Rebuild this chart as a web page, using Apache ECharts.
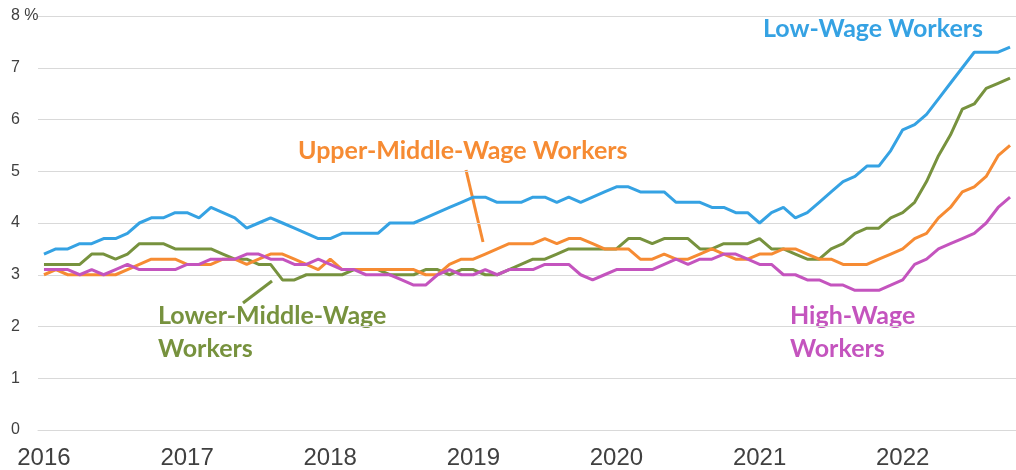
<!DOCTYPE html>
<html>
<head>
<meta charset="utf-8">
<script src="https://cdn.jsdelivr.net/npm/echarts@6/dist/echarts.min.js"></script>
<style>
  html, body { margin: 0; padding: 0; background: #fff; }
  #chart { width: 1016px; height: 470px; }
</style>
</head>
<body>
<div id="chart"></div>
<script>
// monthly, Jan 2016 - Oct 2022
const startYear = 2016
const monthCount = 82
const months = []
for (let i = 0; i < monthCount; i++) {
  const y = startYear + Math.floor(i / 12)
  const m = (i % 12) + 1
  months.push(y + '-' + (m < 10 ? '0' + m : m))
}

const lowWage = [
  3.4, 3.5, 3.5, 3.6, 3.6, 3.7, 3.7, 3.8, 4.0, 4.1, 4.1, 4.2,
  4.2, 4.1, 4.3, 4.2, 4.1, 3.9, 4.0, 4.1, 4.0, 3.9, 3.8, 3.7,
  3.7, 3.8, 3.8, 3.8, 3.8, 4.0, 4.0, 4.0, 4.1, 4.2, 4.3, 4.4,
  4.5, 4.5, 4.4, 4.4, 4.4, 4.5, 4.5, 4.4, 4.5, 4.4, 4.5, 4.6,
  4.7, 4.7, 4.6, 4.6, 4.6, 4.4, 4.4, 4.4, 4.3, 4.3, 4.2, 4.2,
  4.0, 4.2, 4.3, 4.1, 4.2, 4.4, 4.6, 4.8, 4.9, 5.1, 5.1, 5.4,
  5.8, 5.9, 6.1, 6.4, 6.7, 7.0, 7.3, 7.3, 7.3, 7.4
]
const lowerMiddleWage = [
  3.2, 3.2, 3.2, 3.2, 3.4, 3.4, 3.3, 3.4, 3.6, 3.6, 3.6, 3.5,
  3.5, 3.5, 3.5, 3.4, 3.3, 3.3, 3.2, 3.2, 2.9, 2.9, 3.0, 3.0,
  3.0, 3.0, 3.1, 3.1, 3.1, 3.0, 3.0, 3.0, 3.1, 3.1, 3.0, 3.1,
  3.1, 3.0, 3.0, 3.1, 3.2, 3.3, 3.3, 3.4, 3.5, 3.5, 3.5, 3.5,
  3.5, 3.7, 3.7, 3.6, 3.7, 3.7, 3.7, 3.5, 3.5, 3.6, 3.6, 3.6,
  3.7, 3.5, 3.5, 3.4, 3.3, 3.3, 3.5, 3.6, 3.8, 3.9, 3.9, 4.1,
  4.2, 4.4, 4.8, 5.3, 5.7, 6.2, 6.3, 6.6, 6.7, 6.8
]
const upperMiddleWage = [
  3.0, 3.1, 3.0, 3.0, 3.0, 3.0, 3.0, 3.1, 3.2, 3.3, 3.3, 3.3,
  3.2, 3.2, 3.2, 3.3, 3.3, 3.2, 3.3, 3.4, 3.4, 3.3, 3.2, 3.1,
  3.3, 3.1, 3.1, 3.1, 3.1, 3.1, 3.1, 3.1, 3.0, 3.0, 3.2, 3.3,
  3.3, 3.4, 3.5, 3.6, 3.6, 3.6, 3.7, 3.6, 3.7, 3.7, 3.6, 3.5,
  3.5, 3.5, 3.3, 3.3, 3.4, 3.3, 3.3, 3.4, 3.5, 3.4, 3.3, 3.3,
  3.4, 3.4, 3.5, 3.5, 3.4, 3.3, 3.3, 3.2, 3.2, 3.2, 3.3, 3.4,
  3.5, 3.7, 3.8, 4.1, 4.3, 4.6, 4.7, 4.9, 5.3, 5.5
]
const highWage = [
  3.1, 3.1, 3.1, 3.0, 3.1, 3.0, 3.1, 3.2, 3.1, 3.1, 3.1, 3.1,
  3.2, 3.2, 3.3, 3.3, 3.3, 3.4, 3.4, 3.3, 3.3, 3.2, 3.2, 3.3,
  3.2, 3.1, 3.1, 3.0, 3.0, 3.0, 2.9, 2.8, 2.8, 3.0, 3.1, 3.0,
  3.0, 3.1, 3.0, 3.1, 3.1, 3.1, 3.2, 3.2, 3.2, 3.0, 2.9, 3.0,
  3.1, 3.1, 3.1, 3.1, 3.2, 3.3, 3.2, 3.3, 3.3, 3.4, 3.4, 3.3,
  3.2, 3.2, 3.0, 3.0, 2.9, 2.9, 2.8, 2.8, 2.7, 2.7, 2.7, 2.8,
  2.9, 3.2, 3.3, 3.5, 3.6, 3.7, 3.8, 4.0, 4.3, 4.5
]

const BLUE = '#35a2e3'
const GREEN = '#77923e'
const ORANGE = '#f68b33'
const PURPLE = '#c454be'
const LABEL_FONT = 'bold 25px Lato'

const myChart = echarts.init(document.getElementById('chart'))

function lineSeries(name, data, color) {
  return {
    name: name,
    type: 'line',
    data: data,
    showSymbol: false,
    symbol: 'none',
    color: color,
    lineStyle: { color: color, width: 3 }
  }
}

function label(text, x, y, color) {
  return {
    type: 'text',
    x: x,
    y: y,
    style: { text: text, font: LABEL_FONT, fill: color, textVerticalAlign: 'middle' }
  }
}

myChart.setOption({
  animation: false,
  grid: { left: 38, top: 16, width: 983, height: 417 },
  xAxis: {
    type: 'category',
    data: months,
    boundaryGap: true,
    axisLine: { lineStyle: { color: '#d9d9d9' } },
    axisTick: {
      interval: (i) => i % 12 === 0,
      length: 8,
      lineStyle: { color: '#d9d9d9' }
    },
    axisLabel: {
      interval: (i) => i % 12 === 0,
      formatter: (v) => v.slice(0, 4),
      fontFamily: 'Liberation Sans',
      fontSize: 24,
      color: '#404040',
      margin: 16
    }
  },
  yAxis: {
    type: 'value',
    min: 0,
    max: 8,
    interval: 1,
    splitLine: { lineStyle: { color: '#d9d9d9' } },
    axisLabel: {
      formatter: (v) => (v === 8 ? '8 %' : String(v)),
      align: 'left',
      margin: 27,
      fontFamily: 'Liberation Sans',
      fontSize: 16,
      color: '#404040'
    }
  },
  series: [
    lineSeries('Low-Wage Workers', lowWage, BLUE),
    lineSeries('Lower-Middle-Wage Workers', lowerMiddleWage, GREEN),
    lineSeries('Upper-Middle-Wage Workers', upperMiddleWage, ORANGE),
    lineSeries('High-Wage Workers', highWage, PURPLE)
  ],
  graphic: [
    label('Low-Wage Workers', 763, 28.5, BLUE),
    label('Upper-Middle-Wage Workers', 298, 151, ORANGE),
    label('Lower-Middle-Wage', 158, 316, GREEN),
    label('Workers', 158, 348.5, GREEN),
    label('High-Wage', 790, 316, PURPLE),
    label('Workers', 790, 348.5, PURPLE),
    {
      type: 'line',
      shape: { x1: 466, y1: 170, x2: 483, y2: 242 },
      style: { stroke: ORANGE, lineWidth: 3 }
    },
    {
      type: 'line',
      shape: { x1: 272, y1: 281, x2: 243, y2: 303 },
      style: { stroke: GREEN, lineWidth: 3 }
    }
  ]
})
</script>
</body>
</html>
